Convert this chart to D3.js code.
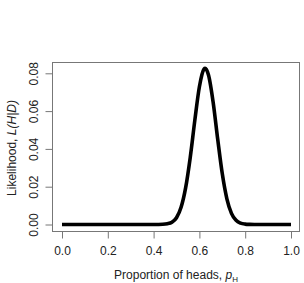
<!DOCTYPE html>
<html>
<head>
<meta charset="utf-8">
<script src="https://cdn.jsdelivr.net/npm/d3@7"></script>
<style>
  body { margin: 0; background: #fff; }
  text { font-family: "Liberation Sans", Arial, sans-serif; fill: #222; }
</style>
</head>
<body>
<svg id="chart" width="304" height="283"></svg>
<script>
// values
var pValues = [0.00, 0.10, 0.20, 0.30, 0.36, 0.40, 0.42, 0.44, 0.46, 0.48, 0.50, 0.52, 0.54, 0.56, 0.58,
  0.60, 0.62, 0.625, 0.64, 0.66, 0.68, 0.70, 0.72, 0.74, 0.76, 0.78, 0.80, 0.82, 0.84, 0.90, 1.00];
var likelihood = [0, 0, 0, 0, 0, 0.00001, 0.00003, 0.0001, 0.0004, 0.0012, 0.0036, 0.0091, 0.0195, 0.0355, 0.0551,
  0.0729, 0.0822, 0.0826, 0.0790, 0.0647, 0.0451, 0.0268, 0.0136, 0.0059, 0.0022, 0.0007, 0.0002, 0.00005, 0, 0, 0];
var xTicks = [0, 0.2, 0.4, 0.6, 0.8, 1.0];
var yTicks = [0, 0.02, 0.04, 0.06, 0.08];

function drawChart() {
  var svg = d3.select("#chart");

  /*** Scales ***/
  var xScale = d3.scaleLinear()
    .domain([0, 1])
    .range([62, 291]);

  var yScale = d3.scaleLinear()
    .domain([0, 0.08])
    .range([224.5, 73.3]);

  var boxLeft = 52.5, boxRight = 299.5, boxTop = 62.5, boxBottom = 231.5;

  /*** Curve ***/
  var pts = pValues.map((p, i) => [p, likelihood[i]]);
  var line = d3.line()
    .x((d) => xScale(d[0]))
    .y((d) => yScale(d[1]))
    .curve(d3.curveMonotoneX);

  svg.append("path")
    .datum(pts)
    .attr("d", line)
    .attr("fill", "none")
    .attr("stroke", "#000")
    .attr("stroke-width", 3.6)
    .attr("stroke-linejoin", "round")
    .attr("stroke-linecap", "butt");

  /*** Box ***/
  svg.append("rect")
    .attr("x", boxLeft)
    .attr("y", boxTop)
    .attr("width", boxRight - boxLeft)
    .attr("height", boxBottom - boxTop)
    .attr("fill", "none")
    .attr("stroke", "#777")
    .attr("stroke-width", 1);

  /*** Axes ***/
  var xAxis = d3.axisBottom(xScale)
    .tickValues(xTicks)
    .tickFormat(d3.format(".1f"))
    .tickSize(7)
    .tickPadding(8);

  var gx = svg.append("g")
    .attr("transform", "translate(0," + boxBottom + ")")
    .call(xAxis);
  gx.select(".domain")
    .attr("d", "M" + xScale(0) + ",0H" + xScale(1));

  var yAxis = d3.axisLeft(yScale)
    .tickValues(yTicks)
    .tickFormat(d3.format(".2f"))
    .tickSize(7);

  var gy = svg.append("g")
    .attr("transform", "translate(" + boxLeft + ",0)")
    .call(yAxis);
  gy.select(".domain")
    .attr("d", "M0," + yScale(0) + "V" + yScale(0.08));

  [gx, gy].forEach((g) => {
    g.selectAll(".domain, line").attr("stroke", "#777");
    g.selectAll("text")
      .attr("font-size", 12)
      .attr("font-family", "Liberation Sans, Arial, sans-serif")
      .attr("fill", "#222");
  });

  // rotated y tick labels (R style)
  gy.selectAll(".tick text")
    .attr("x", null)
    .attr("text-anchor", "middle")
    .attr("transform", "translate(-19,0) rotate(-90)")
    .attr("y", 0)
    .attr("dy", "0.35em");

  /*** Axis titles ***/
  var xt = svg.append("text")
    .attr("x", 176)
    .attr("y", 279)
    .attr("text-anchor", "middle")
    .attr("font-size", 12);
  xt.append("tspan").text("Proportion of heads, ");
  xt.append("tspan").attr("font-style", "italic").text("p");
  xt.append("tspan").attr("font-size", 8).attr("dy", 3).text("H");

  var yt = svg.append("text")
    .attr("transform", "translate(16,148) rotate(-90)")
    .attr("text-anchor", "middle")
    .attr("font-size", 12);
  yt.append("tspan").text("Likelihood, ");
  yt.append("tspan").attr("font-style", "italic").text("L(H|D)");
}
drawChart();
</script>
</body>
</html>
